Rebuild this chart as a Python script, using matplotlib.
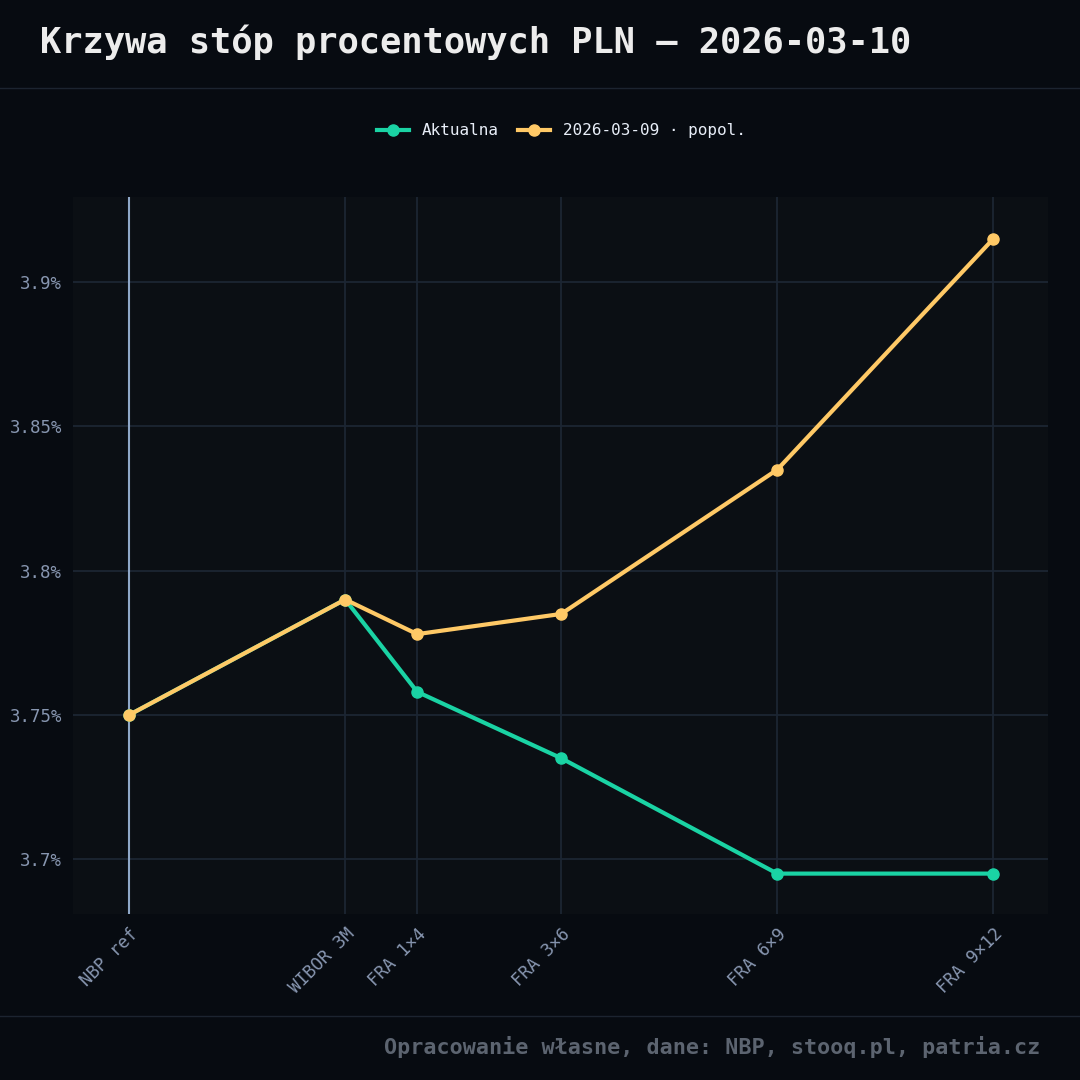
import matplotlib.pyplot as plt
import matplotlib.ticker as mticker

plt.rcParams['font.family'] = ['DejaVu Sans Mono']

tenors = ['NBP ref', 'WIBOR 3M', 'FRA 1×4', 'FRA 3×6', 'FRA 6×9', 'FRA 9×12']
months = [0, 3, 4, 6, 9, 12]
current = [3.75, 3.79, 3.758, 3.735, 3.695, 3.695]
previous = [3.75, 3.79, 3.778, 3.785, 3.835, 3.915]

fig = plt.figure(figsize=(10.8, 10.8), dpi=100)
fig.patch.set_facecolor('#070b11')
ax = fig.add_axes([73/1080, 1 - 914/1080, 975/1080, 717/1080])
ax.set_facecolor('#0b0f14')

ax.plot(months, current, color='#1ad3a4', lw=3, marker='o', ms=8, label='Aktualna', zorder=3)
ax.plot(months, previous, color='#ffc966', lw=3, marker='o', ms=8, label='2026-03-09 · popol.', zorder=4)
ax.axvline(0, color='#8fa8c8', lw=1.5, zorder=2)

ax.set_xlim(-0.78, 12.76)
ax.set_ylim(3.681, 3.9295)
ax.set_xticks(months)
ax.set_xticklabels(tenors, rotation=45, ha='right', rotation_mode='anchor')
ax.set_yticks([3.7, 3.75, 3.8, 3.85, 3.9])
ax.yaxis.set_major_formatter(mticker.FuncFormatter(lambda v, p: f'{v:g}%'))
ax.tick_params(colors='#8796b0', labelsize=12.5, length=0, pad=8)
ax.grid(True, color='#1c2633', lw=1.3)
ax.set_axisbelow(True)
for s in ax.spines.values():
    s.set_visible(False)

fig.legend(loc='center', bbox_to_anchor=(0.52, 1 - 131/1080), ncol=2, frameon=False,
           labelcolor='#e8eef8', fontsize=11.5, handlelength=2, columnspacing=1.2)

fig.text(40/1080, 1 - 42/1080, 'Krzywa stóp procentowych PLN — 2026-03-10', color='#ececec',
         fontsize=25.5, fontweight='bold', va='center', ha='left')
fig.add_artist(plt.Line2D([0, 1], [1 - 88/1080] * 2, color='#1c2430', lw=1))
fig.add_artist(plt.Line2D([0, 1], [1 - 1016/1080] * 2, color='#1c2430', lw=1))
fig.text(1040/1080, 1 - 1047/1080, 'Opracowanie własne, dane: NBP, stooq.pl, patria.cz',
         color='#5c6470', fontsize=15.7, fontweight='bold', ha='right', va='center')

fig.savefig('out.png', dpi=100, facecolor=fig.get_facecolor())
